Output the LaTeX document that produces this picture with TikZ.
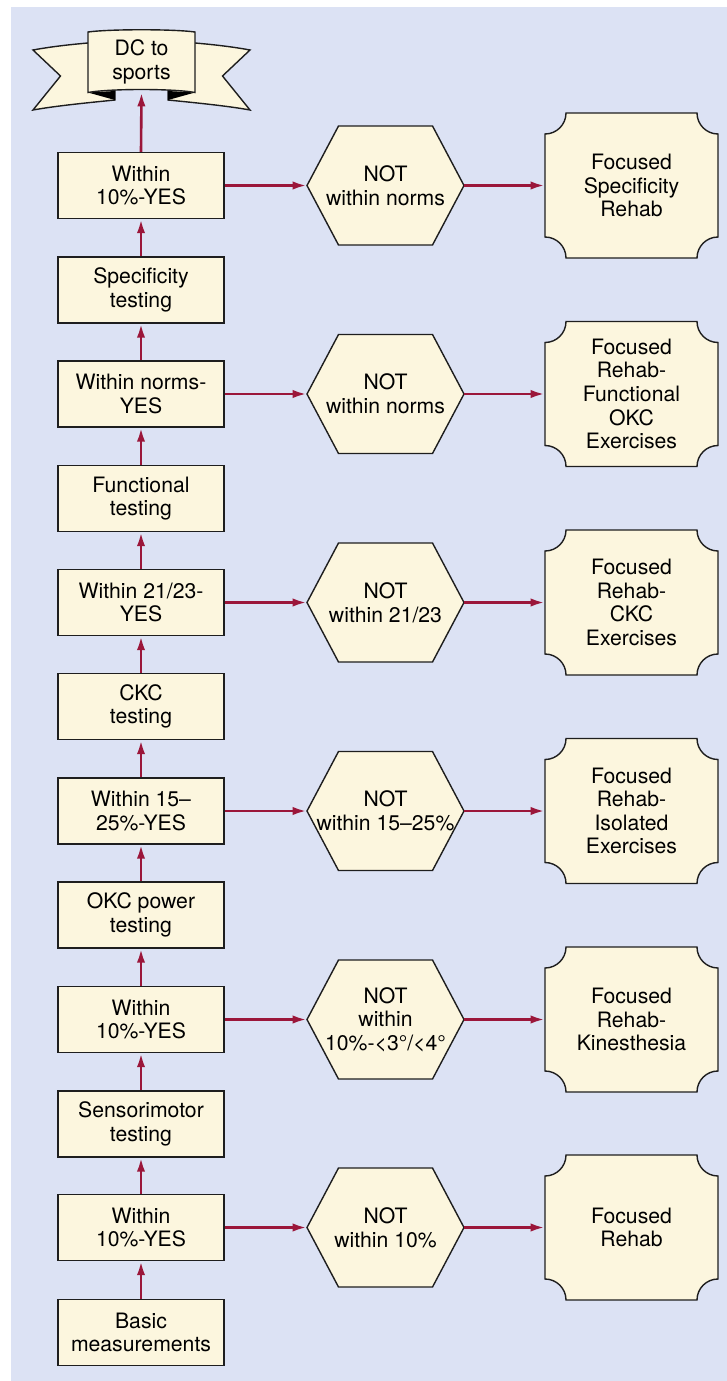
\documentclass[tikz,border=0pt]{standalone}
\usepackage{fontspec}
\setmainfont{TeX Gyre Heros}
\usetikzlibrary{arrows.meta}
\definecolor{bgblue}{RGB}{220,226,244}
\definecolor{cream}{RGB}{252,246,222}
\definecolor{flowred}{RGB}{155,22,58}
\definecolor{edgegray}{RGB}{30,30,30}

\begin{document}
\begin{tikzpicture}[x=0.5pt,y=-0.5pt,
  every node/.style={font=\fontsize{10.6}{11.8}\selectfont, align=center, inner sep=0pt, text=black},
  stepbox/.style={draw=edgegray, fill=cream, line width=0.7pt, minimum width=83pt, minimum height=33pt},
  hexlabel/.style={minimum width=78.5pt, minimum height=59.5pt},
  rehablabel/.style={minimum width=86.5pt, minimum height=72.5pt},
  bannerlabel/.style={minimum width=53.5pt, minimum height=30pt},
  outline/.style={fill=cream, draw=edgegray, line width=0.7pt, line join=miter},
  flow/.style={draw=flowred, line width=1.3pt, -{Latex[length=7pt,width=4.2pt]}},
  hexshape/.pic={
    \path[outline] (-78.5,0) -- (-47,-59.5) -- (47,-59.5) -- (78.5,0)
      -- (47,59.5) -- (-47,59.5) -- cycle;
  },
  rehabshape/.pic={
    \path[outline] (-65.5,-72.5) -- (65.5,-72.5)
      .. controls (65.5,-60.9) and (74.9,-51.5) .. (86.5,-51.5)
      -- (86.5,51.5)
      .. controls (74.9,51.5) and (65.5,60.9) .. (65.5,72.5)
      -- (-65.5,72.5)
      .. controls (-65.5,60.9) and (-74.9,51.5) .. (-86.5,51.5)
      -- (-86.5,-51.5)
      .. controls (-74.9,-51.5) and (-65.5,-60.9) .. (-65.5,-72.5)
      -- cycle;
  }
]
% canvas and panel
\useasboundingbox (0,0) rectangle (727,1381);
\fill[white] (0,0) rectangle (727,1381);
\fill[bgblue] (11,7) rectangle (727,1381);

% ribbon banner: wings, folds, front panel
\path[outline] (33,50) .. controls (55,46) and (75,44) .. (100,42) -- (115,42)
  -- (115,100) .. controls (85,103) and (55,106) .. (33,110) -- (60.5,76) -- cycle;
\path[outline] (250,50) .. controls (228,46) and (208,44) .. (183,42) -- (168,42)
  -- (168,100) .. controls (198,103) and (228,106) .. (250,110) -- (222.5,76) -- cycle;
\fill[black] (88,92.5) -- (115,91) -- (115,100) -- cycle;
\fill[black] (195,92.5) -- (168,91) -- (168,100) -- cycle;
\path[outline] (88,32) .. controls (110,29) and (173,29) .. (195,32)
  -- (195,92.5) .. controls (173,88.5) and (110,88.5) .. (88,92.5) -- cycle;
\node[bannerlabel] (dc) at (141.5,62) {DC to\\sports};

% decision hexagons and rehab panels
\foreach \yy in {185.5,394,602.5,811,1019.5,1227.5}{
  \pic at (385.5,\yy) {hexshape};
  \pic at (631.5,\yy) {rehabshape};
}

% main column
\node[stepbox] (s1)  at (141,185.5)  {Within\\10\%-YES};
\node[stepbox] (s2)  at (141,290)    {Specificity\\testing};
\node[stepbox] (s3)  at (141,394)    {Within norms-\\YES};
\node[stepbox] (s4)  at (141,498.5)  {Functional\\testing};
\node[stepbox] (s5)  at (141,602.5)  {Within 21/23-\\YES};
\node[stepbox] (s6)  at (141,706.5)  {CKC\\testing};
\node[stepbox] (s7)  at (141,811)    {Within 15–\\25\%-YES};
\node[stepbox] (s8)  at (141,915)    {OKC power\\testing};
\node[stepbox] (s9)  at (141,1019.5) {Within\\10\%-YES};
\node[stepbox] (s10) at (141,1124)   {Sensorimotor\\testing};
\node[stepbox] (s11) at (141,1227.5) {Within\\10\%-YES};
\node[stepbox] (s12) at (141,1332.5) {Basic\\measurements};

% hexagon labels
\node[hexlabel] (h1) at (385.5,185.5)  {NOT\\within norms};
\node[hexlabel] (h2) at (385.5,394)    {NOT\\within norms};
\node[hexlabel] (h3) at (385.5,602.5)  {NOT\\within 21/23};
\node[hexlabel] (h4) at (385.5,811)    {NOT\\within 15–25\%};
\node[hexlabel] (h5) at (385.5,1019.5) {NOT\\within\\10\%-<3°/<4°};
\node[hexlabel] (h6) at (385.5,1227.5) {NOT\\within 10\%};

% rehab labels
\node[rehablabel] (r1) at (631.5,185.5)  {Focused\\Specificity\\Rehab};
\node[rehablabel] (r2) at (631.5,394)    {Focused\\Rehab-\\Functional\\OKC\\Exercises};
\node[rehablabel] (r3) at (631.5,602.5)  {Focused\\Rehab-\\CKC\\Exercises};
\node[rehablabel] (r4) at (631.5,811)    {Focused\\Rehab-\\Isolated\\Exercises};
\node[rehablabel] (r5) at (631.5,1019.5) {Focused\\Rehab-\\Kinesthesia};
\node[rehablabel] (r6) at (631.5,1227.5) {Focused\\Rehab};

% upward flow
\draw[flow] (s1.north) -- (dc.south);
\foreach \lo/\hi in {s2/s1,s3/s2,s4/s3,s5/s4,s6/s5,s7/s6,s8/s7,s9/s8,s10/s9,s11/s10,s12/s11}{
  \draw[flow] (\lo.north) -- (\hi.south);
}

% sideways flow: each check to its failure branch, then to its rehab
\draw[flow] (s1.east)  -- (h1.west);
\draw[flow] (s3.east)  -- (h2.west);
\draw[flow] (s5.east)  -- (h3.west);
\draw[flow] (s7.east)  -- (h4.west);
\draw[flow] (s9.east)  -- (h5.west);
\draw[flow] (s11.east) -- (h6.west);
\foreach \i in {1,...,6}{
  \draw[flow] (h\i.east) -- (r\i.west);
}
\end{tikzpicture}
\end{document}
